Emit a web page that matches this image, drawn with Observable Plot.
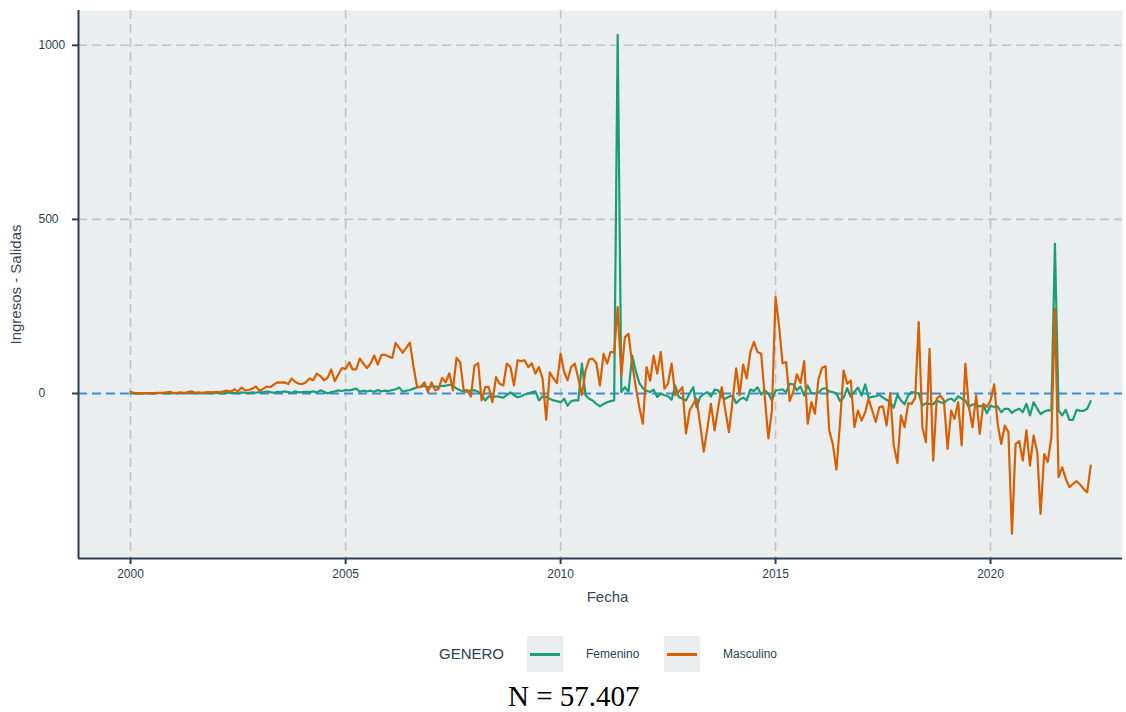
<!DOCTYPE html>
<html>
<head>
<meta charset="utf-8">
<script src="https://cdn.jsdelivr.net/npm/d3@7"></script>
<script src="https://cdn.jsdelivr.net/npm/@observablehq/plot@0.6"></script>
<style>
  html, body { margin: 0; padding: 0; background: #ffffff; }
  body { width: 1126px; height: 712px; overflow: hidden; position: relative; font-family: "Liberation Sans", Arial, sans-serif; color: #2c3e50; }
  #chart { position: absolute; left: 0; top: 0; }
  .lg { position: absolute; top: 636px; height: 36px; line-height: 36px; white-space: nowrap; }
  .key { position: absolute; top: 636px; width: 36px; height: 36px; background: #EBEEEE; }
  .key div { position: absolute; left: 3px; right: 3px; top: 16.5px; height: 3px; }
  #caption { position: absolute; left: 508px; top: 682px; height: 29px; font-family: "Liberation Serif", "DejaVu Serif", serif; font-size: 29px; line-height: 29px; color: #000; white-space: nowrap; }
</style>
</head>
<body>
<div id="chart"></div>
<div class="lg" style="left:439px;font-size:15px;">GENERO</div>
<div class="key" style="left:527px;"><div style="background:#1b9e77"></div></div>
<div class="lg" style="left:586px;font-size:12px;">Femenino</div>
<div class="key" style="left:664px;"><div style="background:#d95f02"></div></div>
<div class="lg" style="left:723px;font-size:12px;">Masculino</div>
<div id="caption">N = 57.407</div>
<script>
// Monthly series, Jan 2000 .. May 2022 (Ingresos - Salidas)
const femenino = [
  0,1,0,0,1,0,1,0,2,1,0,1,
  1,0,2,1,0,2,1,1,0,2,1,0,
  2,1,0,3,1,2,0,3,2,1,3,2,
  4,3,6,4,2,5,3,6,4,2,6,3,
  4,5,4,6,3,9,5,0,4,6,9,7,
  10,9,11,14,5,8,6,8,5,10,6,8,
  7,10,12,17,5,8,10,14,18,20,22,18,
  20,20,19,22,22,25,23,14,9,5,5,9,
  9,5,-5,-20,-8,-12,-8,-10,-12,-5,3,-5,
  -11,-8,-3,0,3,6,-20,-8,-10,-15,-20,-22,
  -25,-15,-35,-22,-20,-20,86,-5,-15,-20,-30,-37,
  -30,-25,-22,-20,1030,4,18,5,109,65,30,15,
  8,4,11,-10,0,-5,-8,-18,23,-10,-15,-20,
  0,18,-40,-10,-2,4,-9,11,9,-10,-15,-9,
  -6,-28,-18,-12,-20,11,7,18,-3,9,0,-20,
  9,10,12,4,28,26,9,20,-6,23,1,0,
  2,13,15,6,4,0,-22,-12,15,-10,5,17,
  -6,26,-12,-10,-8,-4,-12,-18,-25,-41,-4,-20,
  -31,-6,4,2,0,-35,-28,-30,-31,-20,-25,-28,
  -18,-15,-22,-8,-15,-20,-39,-31,-34,-37,-35,-57,
  -35,-39,-37,-54,-44,-44,-56,-48,-44,-54,-30,-63,
  -25,-44,-59,-52,-48,-49,430,-49,-63,-47,-76,-76,
  -47,-50,-50,-44,-22
];
const masculino = [
  5,1,0,0,1,1,0,2,1,2,3,5,
  1,2,3,1,4,6,2,3,2,3,4,3,
  5,4,6,8,5,12,6,17,9,10,14,20,
  8,13,20,18,25,32,31,32,27,43,33,28,
  27,33,43,38,57,50,38,45,69,35,55,73,
  70,90,69,69,100,86,73,86,109,83,111,111,
  106,102,145,131,117,132,146,76,18,18,32,4,
  32,9,13,45,32,58,9,102,90,9,10,-9,
  80,87,-20,18,18,-25,47,28,23,86,76,23,
  95,93,95,76,87,57,76,43,-75,61,43,30,
  114,61,38,76,86,43,-5,66,98,100,86,23,
  114,86,119,119,248,52,162,171,85,20,-40,-87,
  76,37,109,57,119,14,28,86,-5,5,18,-115,
  -49,-30,-15,-90,-167,-100,-30,-106,-40,18,-50,-111,
  -20,72,-5,83,43,119,148,119,114,-10,-129,-49,
  277,191,87,90,-22,6,55,30,93,-87,-25,-58,
  42,74,78,-106,-145,-219,-87,66,28,37,-97,-49,
  -78,-54,-15,-49,-82,-39,-37,-92,1,-149,-200,-63,
  -97,-28,-30,-12,205,-97,-140,128,-193,-15,-6,-20,
  -159,-49,-73,-25,-149,85,-39,-97,-6,-116,-30,-39,
  -20,26,-87,-145,-92,-111,-403,-145,-137,-193,-106,-207,
  -121,-169,-346,-174,-197,-125,243,-240,-212,-245,-269,-260,
  -252,-262,-274,-284,-207
];
const generos = ["Femenino", "Masculino"];
const colores = ["#1b9e77", "#d95f02"];
const anosTicks = [2000, 2005, 2010, 2015, 2020];
const yTicks = [0, 500, 1000];

const meses = d3.utcMonth.range(new Date(Date.UTC(2000, 0, 1)), new Date(Date.UTC(2022, 5, 1)));
const filas = [];
[femenino, masculino].forEach((serie, i) => {
  serie.forEach((v, j) => filas.push({fecha: meses[j], genero: generos[i], valor: v}));
});

const xDom = [new Date(Date.UTC(1998, 9, 16)), new Date(Date.UTC(2023, 0, 26))];
const yDom = [-474, 1100];
const xTickDates = anosTicks.map(a => new Date(Date.UTC(a, 0, 1)));
const ink = "#2c3e50";
const grid = {stroke: "#c4c4c4", strokeDasharray: "9,5", strokeWidth: 1.6};

const chart = Plot.plot({
  width: 1126,
  height: 615,
  marginLeft: 78,
  marginRight: 4,
  marginTop: 10,
  marginBottom: 57,
  x: {type: "utc", domain: xDom},
  y: {domain: yDom},
  color: {domain: generos, range: colores},
  style: {fontFamily: "'Liberation Sans', Arial, sans-serif", color: ink, background: "#ffffff"},
  marks: [
    Plot.frame({fill: "#EBEEEE", stroke: "none"}),
    Plot.ruleX(xTickDates, grid),
    Plot.ruleY(yTicks.filter(d => d !== 0), grid),
    Plot.ruleY([0], {stroke: "#3a8ddb", strokeDasharray: "9,5", strokeWidth: 2}),
    Plot.line(filas.filter(d => d.genero === "Femenino"), {x: "fecha", y: "valor", stroke: "genero", strokeWidth: 2.2}),
    Plot.line(filas.filter(d => d.genero === "Masculino"), {x: "fecha", y: "valor", stroke: "genero", strokeWidth: 2.2}),
    Plot.ruleX([xDom[0]], {stroke: ink, strokeWidth: 2}),
    Plot.ruleY([yDom[0]], {stroke: ink, strokeWidth: 2}),
    Plot.axisX({ticks: xTickDates, tickFormat: d3.utcFormat("%Y"), tickSize: 6, tickPadding: 5, fontSize: 12, stroke: ink, strokeWidth: 2, fill: ink, label: null}),
    Plot.axisY({ticks: yTicks, tickSize: 6, tickFormat: () => "", stroke: ink, strokeWidth: 2, label: null}),
    Plot.text(yTicks, {y: d => d, text: d => String(d), frameAnchor: "left", dx: -40, textAnchor: "start", fontSize: 12, fill: ink}),
    Plot.text(["Fecha"], {frameAnchor: "bottom", dx: 7, dy: 43, fontSize: 15, fill: "#34495e"}),
    Plot.text(["Ingresos - Salidas"], {frameAnchor: "left", dx: -62, rotate: -90, textAnchor: "middle", fontSize: 15, fill: "#34495e"})
  ]
});
document.getElementById("chart").appendChild(chart);
</script>
</body>
</html>
